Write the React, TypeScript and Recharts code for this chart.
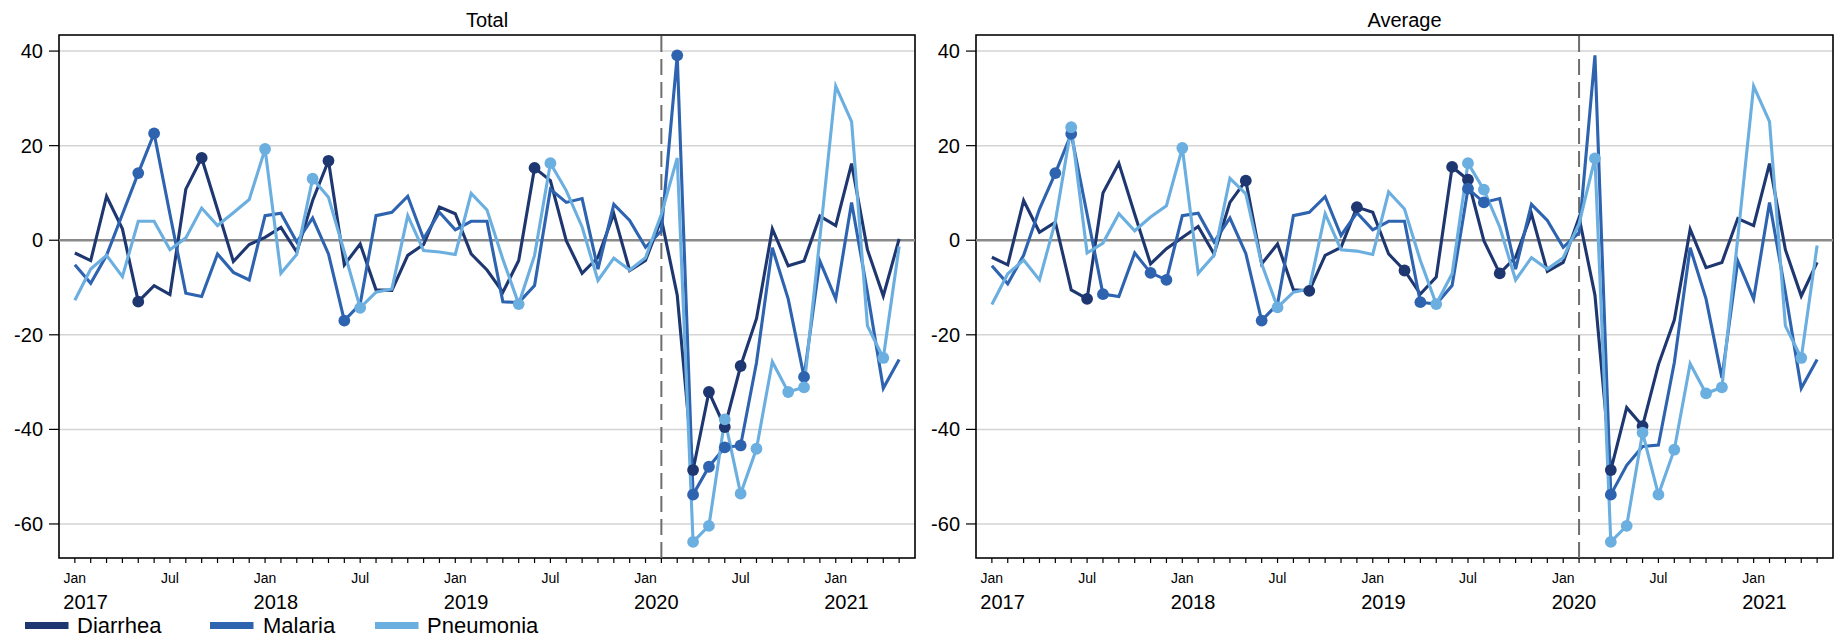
import React from 'react';
import { LineChart, Line, XAxis, YAxis, CartesianGrid, ReferenceLine, ReferenceArea } from 'recharts';

const FONT = "'Liberation Sans', Arial, Helvetica, sans-serif";

// Categories: months Jan 2017 .. May 2021 (index 0..52)
const monthNames = ['Jan', 'Feb', 'Mar', 'Apr', 'May', 'Jun', 'Jul', 'Aug', 'Sep', 'Oct', 'Nov', 'Dec'];
const startYear = 2017;
const nMonths = 53;
const periods = Array.from({ length: nMonths }, (_, i) => `${monthNames[i % 12]} ${startYear + Math.floor(i / 12)}`);
const tickLabelMonths = { 0: 'Jan', 6: 'Jul' };
const interventionIndex = 37; // Feb 2020

const seriesNames = ['Diarrhea', 'Malaria', 'Pneumonia'];
const colors = ['#1f3770', '#2e63b0', '#6baee0'];

// Panel "Total"
const totalDiarrhea = [
  -2.7, -4.3, 9.3, 2.4, -13.0, -9.6, -11.5, 10.8, 17.4, 6.5, -4.5, -0.9,
  0.6, 2.7, -2.5, 8.4, 16.8, -5.2, -0.8, -10.5, -10.6, -3.2, -0.9, 7.0,
  5.6, -2.9, -6.3, -11.0, -4.3, 15.3, 12.6, -0.1, -7.0, -3.6, 5.6, -6.4,
  -4.3, 4.5, -11.6, -48.6, -32.1, -39.5, -26.6, -16.6, 2.4, -5.4, -4.4, 5.1,
  3.1, 16.2, -2.0, -11.8, 0.3,
];
const totalMalaria = [
  -5.2, -9.1, -3.2, 5.5, 14.2, 22.6, 5.5, -11.2, -11.9, -2.9, -6.8, -8.4,
  5.2, 5.7, -0.4, 4.7, -2.9, -17.0, -13.5, 5.2, 5.9, 9.3, 0.3, 5.9,
  2.2, 4.0, 4.0, -13.0, -13.2, -9.6, 10.8, 8.0, 8.8, -6.1, 7.6, 4.2,
  -1.5, 2.0, 39.1, -53.8, -47.9, -43.8, -43.4, -25.9, -1.6, -12.4, -28.9, -4.4,
  -12.4, 8.0, -11.0, -31.3, -25.2,
];
const totalPneumonia = [
  -12.7, -6.1, -3.2, -7.7, 4.0, 4.0, -2.0, 0.5, 6.8, 3.1, 5.8, 8.6,
  19.3, -7.0, -3.0, 13.0, 9.1, -2.5, -14.3, -11.0, -10.3, 5.2, -2.2, -2.5,
  -3.0, 9.9, 6.4, -4.0, -13.5, -3.2, 16.3, 10.5, 2.8, -8.5, -3.8, -6.3,
  -3.7, 5.5, 17.4, -63.8, -60.4, -37.9, -53.6, -44.1, -25.7, -32.1, -31.1, 0.5,
  32.6, 25.1, -18.1, -24.9, -1.3,
];
const totalDiarrheaMarks = [4, 8, 16, 29, 39, 40, 41, 42];
const totalMalariaMarks = [4, 5, 17, 38, 39, 40, 41, 42, 46];
const totalPneumoniaMarks = [12, 15, 18, 28, 30, 39, 40, 41, 42, 43, 45, 46, 51];

// Panel "Average"
const avgDiarrhea = [
  -3.6, -5.2, 8.4, 1.7, 3.8, -10.5, -12.4, 10.0, 16.3, 5.5, -5.0, -1.8,
  0.6, 2.9, -2.9, 8.0, 12.6, -5.0, -0.8, -10.5, -10.7, -3.2, -1.5, 7.0,
  5.9, -2.9, -6.4, -11.4, -7.8, 15.5, 12.8, -0.1, -7.0, -3.6, 5.6, -6.6,
  -4.7, 4.8, -11.6, -48.6, -35.4, -39.3, -26.3, -16.9, 2.3, -5.8, -4.7, 4.6,
  3.1, 16.2, -2.0, -11.8, -4.7,
];
const avgMalaria = [
  -5.4, -9.2, -3.2, 6.6, 14.2, 22.5, 5.5, -11.4, -11.9, -2.7, -6.9, -8.4,
  5.2, 5.7, -0.4, 4.7, -2.8, -17.0, -13.5, 5.2, 5.9, 9.2, 1.0, 5.8,
  2.2, 4.0, 4.0, -13.1, -13.5, -9.6, 10.9, 8.0, 8.8, -6.1, 7.6, 4.2,
  -1.5, 1.6, 39.1, -53.8, -47.6, -43.6, -43.3, -25.9, -1.6, -12.4, -29.1, -4.4,
  -12.4, 8.0, -11.0, -31.3, -25.2,
];
const avgPneumonia = [
  -13.6, -7.1, -4.2, -8.4, 4.0, 23.9, -2.7, -0.6, 5.6, 2.0, 4.9, 7.3,
  19.5, -7.0, -3.2, 13.1, 9.8, -5.0, -14.2, -11.0, -10.3, 5.6, -2.0, -2.3,
  -3.0, 10.2, 6.6, -4.3, -13.5, -7.1, 16.3, 10.7, 2.8, -8.4, -3.7, -6.1,
  -3.7, 3.5, 17.3, -63.8, -60.4, -40.7, -53.8, -44.3, -26.1, -32.4, -31.1, 0.5,
  32.6, 25.1, -18.1, -24.9, -1.1,
];
const avgDiarrheaMarks = [6, 16, 20, 23, 26, 29, 30, 32, 39, 41];
const avgMalariaMarks = [4, 5, 7, 10, 11, 17, 27, 30, 31, 39];
const avgPneumoniaMarks = [5, 12, 18, 28, 30, 31, 38, 39, 40, 41, 42, 43, 45, 46, 51];

const yTicks = [-60, -40, -20, 0, 20, 40];
const yDomain = [-67.2, 43.4];
const xDomain = [-1, 53];
const xTicks = periods.map((_, i) => i);

const buildData = (d, m, p) => periods.map((label, i) => ({ i, label, d: d[i], m: m[i], p: p[i] }));

const totalData = buildData(totalDiarrhea, totalMalaria, totalPneumonia);
const avgData = buildData(avgDiarrhea, avgMalaria, avgPneumonia);

const MonthTick = (props) => {
  const { x, y, payload } = props;
  const v = payload.value;
  const m = v % 12;
  const lab = tickLabelMonths[m];
  if (!lab) return <g />;
  const year = startYear + Math.floor(v / 12);
  return (
    <g>
      <text x={x} y={y} dy={19.5} textAnchor="middle" fontSize={14} fontFamily={FONT} fill="#000">{lab}</text>
      {m === 0 ? (
        <text x={x - 11.5} y={y} dy={45.5} textAnchor="start" fontSize={20} fontFamily={FONT} fill="#000">{year}</text>
      ) : null}
    </g>
  );
};

const makeDot = (marks, color, key) => (props) => {
  const { cx, cy, index } = props;
  if (!marks.includes(index) || cx == null || cy == null) return <g key={`${key}-n-${index}`} />;
  return <circle key={`${key}-${index}`} cx={cx} cy={cy} r={5.9} fill={color} stroke="none" />;
};

function Panel({ left, width, data, marks }) {
  const keys = ['d', 'm', 'p'];
  return (
    <div style={{ position: 'absolute', left, top: 0 }}>
      <LineChart width={width} height={639} data={data} margin={{ top: 35, right: 15, bottom: 0, left: 0 }}>
        <CartesianGrid vertical={false} stroke="#d4d4d4" strokeWidth={1.5} />
        <XAxis
          type="number"
          dataKey="i"
          domain={xDomain}
          ticks={xTicks}
          interval={0}
          height={81}
          tickSize={5}
          tickMargin={0}
          axisLine={false}
          tickLine={{ stroke: '#000', strokeWidth: 1.2 }}
          tick={<MonthTick />}
          allowDataOverflow
        />
        <YAxis
          type="number"
          domain={yDomain}
          ticks={yTicks}
          interval={0}
          width={59}
          tickSize={10}
          tickMargin={6}
          axisLine={false}
          tickLine={{ stroke: '#000', strokeWidth: 1.2 }}
          tick={{ fill: '#000', fontSize: 20, fontFamily: FONT }}
          allowDataOverflow
        />
        <ReferenceLine y={0} stroke="#8a8a8a" strokeWidth={2.5} />
        <ReferenceLine x={interventionIndex} stroke="#6e6e6e" strokeWidth={2} strokeDasharray="16 7" />
        <ReferenceArea x1={xDomain[0]} x2={xDomain[1]} y1={yDomain[0]} y2={yDomain[1]} fill="none" fillOpacity={0} stroke="#000" strokeWidth={1.6} />
        {keys.map((k, s) => (
          <Line
            key={k}
            type="linear"
            dataKey={k}
            name={seriesNames[s]}
            stroke={colors[s]}
            strokeWidth={3.1}
            dot={makeDot(marks[s], colors[s], k)}
            activeDot={false}
            isAnimationActive={false}
          />
        ))}
      </LineChart>
    </div>
  );
}

export default function App() {
  const legendItems = [
    { x: 25, tx: 77 },
    { x: 210, tx: 263 },
    { x: 375, tx: 427 },
  ];
  return (
    <div style={{ position: 'absolute', left: 0, top: 0, width: 1839, height: 639, background: '#fff', overflow: 'hidden' }}>
      <Panel left={0} width={930} data={totalData} marks={[totalDiarrheaMarks, totalMalariaMarks, totalPneumoniaMarks]} />
      <Panel left={917} width={931} data={avgData} marks={[avgDiarrheaMarks, avgMalariaMarks, avgPneumoniaMarks]} />
      <svg width={1839} height={639} style={{ position: 'absolute', left: 0, top: 0, pointerEvents: 'none' }}>
        <text x={487} y={26.5} textAnchor="middle" fontSize={20} fontFamily={FONT} fill="#000">Total</text>
        <text x={1404.5} y={26.5} textAnchor="middle" fontSize={20} fontFamily={FONT} fill="#000">Average</text>
        {legendItems.map((it, s) => (
          <g key={s}>
            <rect x={it.x} y={622} width={43.5} height={7} fill={colors[s]} />
            <text x={it.tx} y={633} fontSize={22} fontFamily={FONT} fill="#000">{seriesNames[s]}</text>
          </g>
        ))}
      </svg>
    </div>
  );
}
